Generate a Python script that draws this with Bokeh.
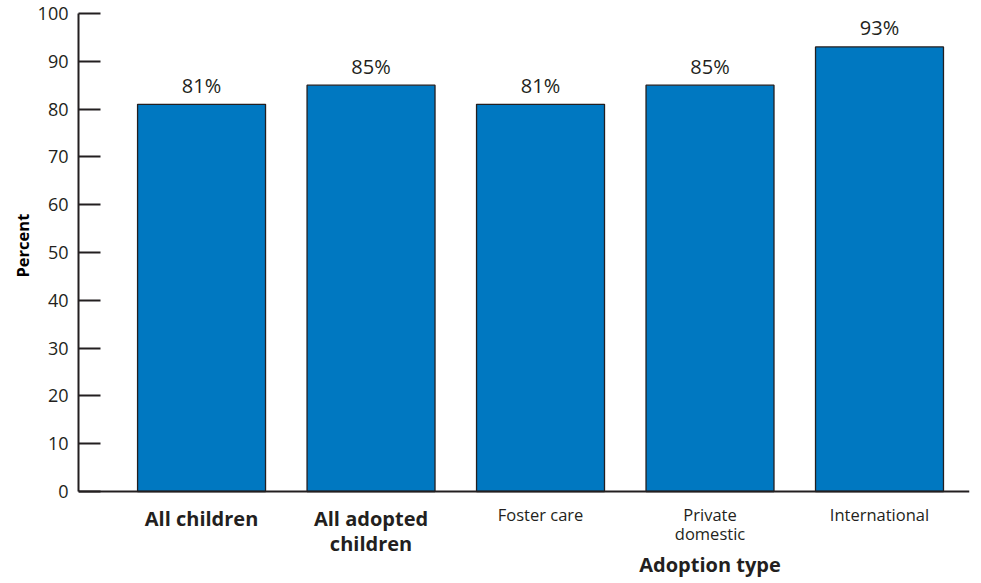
from bokeh.plotting import figure
from bokeh.models import FixedTicker, Range1d, ColumnDataSource, Span, Title
from bokeh.embed import file_html
from bokeh.resources import INLINE
from bokeh.core.properties import value

# ---- data ----
categories = ["All children", "All adopted children", "Foster care", "Private domestic", "International"]
cat_lines = [["All children"], ["All adopted", "children"], ["Foster care"], ["Private", "domestic"], ["International"]]
cat_bold = [True, True, False, False, False]
percents = [81, 85, 81, 85, 93]
pct_labels = ["81%", "85%", "81%", "85%", "93%"]
y_ticks = [0, 10, 20, 30, 40, 50, 60, 70, 80, 90, 100]
x_title = "Adoption type"
y_title = "Percent"

FONT = "Open Sans"
INK = "#231f20"
BLUE = "#0078c1"

W, H = 979, 581
TOP = 13          # frame top (px)
ZERO = 491        # pixel row of y = 0
PX_PER_UNIT = (ZERO - TOP) / 100.0
y_start = -(H - ZERO) / PX_PER_UNIT
xs = list(range(len(categories)))

p = figure(width=W, height=H, output_backend="svg", toolbar_location=None,
           x_range=Range1d(-0.726, 4.531), y_range=Range1d(y_start, 100),
           x_axis_location=None,
           min_border_left=78, min_border_right=W - 969, min_border_top=TOP,
           min_border_bottom=0)
p.outline_line_color = None
p.xgrid.visible = False
p.ygrid.visible = False
p.background_fill_color = "white"
p.border_fill_color = "white"

src = ColumnDataSource(dict(x=xs, top=percents, lab=pct_labels))
p.vbar(x="x", top="top", width=0.755, bottom=0, source=src,
       fill_color=BLUE, line_color=INK, line_width=1.3)
p.text(x="x", y="top", text="lab", source=src, text_align="center",
       text_baseline="middle", y_offset=-19,
       text_font=value(FONT), text_font_size="20px", text_color=INK)

# x axis line at y = 0
p.add_layout(Span(location=0, dimension="width", line_color=INK, line_width=2))

# y axis
ya = p.yaxis[0]
ya.bounds = (0, 100)
ya.ticker = FixedTicker(ticks=y_ticks)
ya.minor_tick_line_color = None
ya.major_tick_in = 22
ya.major_tick_out = 0
ya.major_tick_line_width = 2
ya.major_tick_line_color = INK
ya.axis_line_width = 2
ya.axis_line_color = INK
ya.major_label_standoff = 10
ya.major_label_text_font = FONT
ya.major_label_text_font_size = "18px"
ya.major_label_text_color = INK

# y title, placed along the 0-100 part of the axis
p.add_layout(Title(text=y_title, align="left", offset=H - 277, standoff=0,
                   vertical_align="middle",
                   text_font=FONT, text_font_style="bold", text_font_size="16.5px",
                   text_color="#000000"), "left")

# category labels below the axis (offsets in pixels below y = 0)
for bold in (True, False):
    lx, lt, lo = [], [], []
    for i, (lines, b) in enumerate(zip(cat_lines, cat_bold)):
        if b != bold:
            continue
        y0, step = (518, 25) if bold else (514, 19)
        for j, t in enumerate(lines):
            lx.append(xs[i]); lt.append(t); lo.append(y0 + j * step - ZERO)
    s = ColumnDataSource(dict(x=lx, y=[0] * len(lx), text=lt, off=lo))
    p.text(x="x", y="y", text="text", y_offset="off", source=s,
           text_align="center", text_baseline="middle",
           text_font=value(FONT), text_font_size="20px" if bold else "16.5px",
           text_font_style="bold" if bold else "normal", text_color=INK)

ts = ColumnDataSource(dict(x=[3.0], y=[0], text=[x_title], off=[564 - ZERO]))
p.text(x="x", y="y", text="text", y_offset="off", source=ts,
       text_align="center", text_baseline="middle", text_font=value(FONT),
       text_font_size="20px", text_font_style="bold", text_color=INK)

open("out.html", "w").write(file_html(p, INLINE))
